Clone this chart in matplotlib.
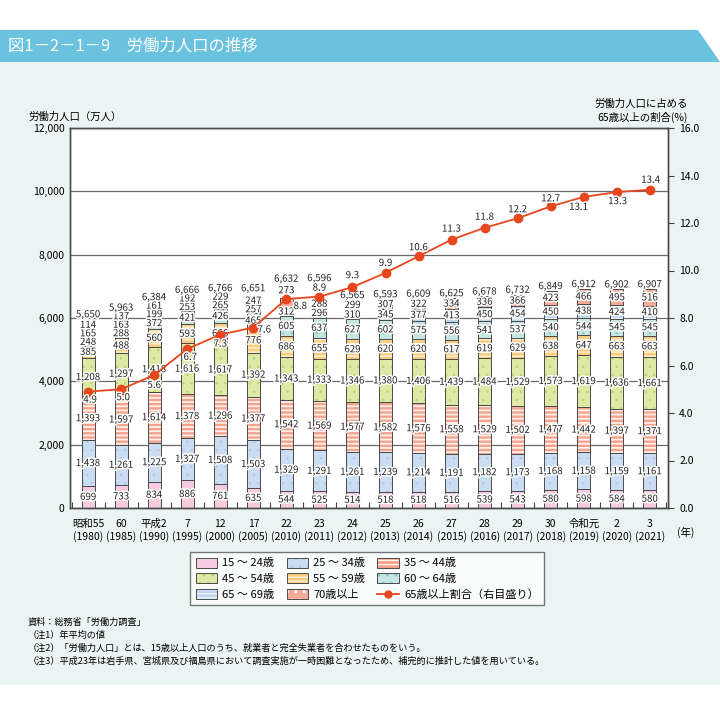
import matplotlib
matplotlib.use("Agg")
import matplotlib.pyplot as plt
import matplotlib.patheffects as pe
from matplotlib.patches import Patch, Polygon, Rectangle
from matplotlib.lines import Line2D
import numpy as np

plt.rcParams['font.family'] = ['Noto Sans CJK JP', 'DejaVu Sans']

# data (万人)
years = ["昭和55\n(1980)", "60\n(1985)", "平成2\n(1990)", "7\n(1995)", "12\n(2000)",
         "17\n(2005)", "22\n(2010)", "23\n(2011)", "24\n(2012)", "25\n(2013)",
         "26\n(2014)", "27\n(2015)", "28\n(2016)", "29\n(2017)", "30\n(2018)",
         "令和元\n(2019)", "2\n(2020)", "3\n(2021)"]
age_groups = ["15 ～ 24歳", "25 ～ 34歳", "35 ～ 44歳", "45 ～ 54歳",
              "55 ～ 59歳", "60 ～ 64歳", "65 ～ 69歳", "70歳以上"]
age15_24 = [699, 733, 834, 886, 761, 635, 544, 525, 514, 518, 518, 516, 539, 543, 580, 598, 584, 580]
age25_34 = [1438, 1261, 1225, 1327, 1508, 1503, 1329, 1291, 1261, 1239, 1214, 1191, 1182, 1173, 1168, 1158, 1159, 1161]
age35_44 = [1393, 1597, 1614, 1378, 1296, 1377, 1542, 1569, 1577, 1582, 1576, 1558, 1529, 1502, 1477, 1442, 1397, 1371]
age45_54 = [1208, 1297, 1418, 1616, 1617, 1392, 1343, 1333, 1346, 1380, 1406, 1439, 1484, 1529, 1573, 1619, 1636, 1661]
age55_59 = [385, 488, 560, 593, 666, 776, 686, 655, 629, 620, 620, 617, 619, 629, 638, 647, 663, 663]
age60_64 = [248, 288, 372, 421, 426, 465, 605, 637, 627, 602, 575, 556, 541, 537, 540, 544, 545, 545]
age65_69 = [165, 163, 199, 253, 265, 257, 312, 296, 310, 345, 377, 413, 450, 454, 450, 438, 424, 410]
age70_up = [114, 137, 161, 192, 229, 247, 273, 288, 299, 307, 322, 334, 336, 366, 423, 466, 495, 516]
totals = [5650, 5963, 6384, 6666, 6766, 6651, 6632, 6596, 6565, 6593, 6609, 6625, 6678, 6732, 6849, 6912, 6902, 6907]
ratio65 = [4.9, 5.0, 5.6, 6.7, 7.3, 7.6, 8.8, 8.9, 9.3, 9.9, 10.6, 11.3, 11.8, 12.2, 12.7, 13.1, 13.3, 13.4]

series = [age15_24, age25_34, age35_44, age45_54, age55_59, age60_64, age65_69, age70_up]

# styles: face colour, hatch, hatch colour, hatch line width
faces = ['#F7CBE0', '#CADDF2', '#F4A38D', '#DEE9A6', '#FACB7E', '#C6E6E3', '#BDD4EE', '#F3AB97']
hatches = ['', '..', '----', '..', '----', '..', '----', '..']
hcolors = ['#F7CBE0', '#B0C9E7', '#FFF1EC', '#B7D172', '#FFF0D2', '#8ACAC4', '#F2F7FC', '#FFFFFF']
hwidths = [0.5, 0.5, 1.3, 0.5, 1.1, 0.5, 1.2, 0.5]
edge = '#4A4A4A'
red = '#E8471E'
# label offsets for the ratio line (pixels)
pct_off = [(2, -8), (2, -8), (0, -10), (3, -8), (0, -9), (11, -2), (14, -7), (0, 9), (0, 12),
           (0, 10), (0, 9), (0, 11), (0, 11), (0, 9), (0, 8), (-5, -10), (1, -9), (1, 10)]
# extra lift (pixels) of the top segment label / total label where the line crosses
top_lift = [0, 0, 0, 0, 0, 0, 12, 0, 0, 0, 0, 0, 0, 0, 0, 0, 0, 0]
total_lift = [2, 0, 0, 0, 0, 4, 3, 16, 0, 0, 0, 0, 0, 0, 0, 0, 0, 0]


def make_patch(p, k):
    if hasattr(p, 'set_hatch_linewidth'):
        p.set_hatch_linewidth(hwidths[k])


fig = plt.figure(figsize=(7.2, 7.2), dpi=100)
fig.patch.set_facecolor('white')

# panel + title band
fig.patches.append(Rectangle((0, 1 - 685 / 720), 1, (685 - 62) / 720, transform=fig.transFigure,
                             facecolor='#EAF4F3', edgecolor='none', zorder=-10))
fig.patches.append(Polygon([(0, 1 - 30 / 720), (698 / 720, 1 - 30 / 720), (1, 1 - 62 / 720), (0, 1 - 62 / 720)],
                           closed=True, transform=fig.transFigure, facecolor='#6AC2DE',
                           edgecolor='none', zorder=-10))
fig.text(8 / 720, 1 - 46 / 720, "図1－2－1－9　労働力人口の推移", color='white', fontsize=11.8,
         va='center', ha='left')

ax = fig.add_axes([70 / 720, 1 - 508 / 720, 598 / 720, 380 / 720])
ax.set_facecolor('white')
x = np.arange(len(years))
w = 0.4
bottom = np.zeros(len(years))
px = 12000 / 380.0
label_y = [[] for _ in years]
for k, vals in enumerate(series):
    vals = np.array(vals, dtype=float)
    with plt.rc_context({'hatch.linewidth': hwidths[k]}):
        bars = ax.bar(x, vals, w, bottom=bottom, color=faces[k], hatch=hatches[k],
                      edgecolor=hcolors[k], linewidth=0, zorder=2)
        for p in bars:
            make_patch(p, k)
    ax.bar(x, vals, w, bottom=bottom, fill=False, edgecolor=edge, linewidth=0.7, zorder=3)
    for i in x:
        yc = bottom[i] + vals[i] / 2
        if label_y[i]:
            yc = max(yc, label_y[i][-1] + 8.5 * px)
        if k == len(series) - 1:
            yc += top_lift[i] * px
        label_y[i].append(yc)
    bottom += vals

halo = [pe.withStroke(linewidth=2.2, foreground='white')]
for i in x:
    for k, yc in enumerate(label_y[i]):
        ax.text(i, yc, f"{series[k][i]:,}", ha='center', va='center', fontsize=7,
                color='#222222', path_effects=halo, zorder=6)
    yt = max(totals[i] + 5 * px, label_y[i][-1] + 8.5 * px) + total_lift[i] * px
    ax.text(i, yt, f"{totals[i]:,}", ha='center', va='center', fontsize=7,
            color='#222222', path_effects=halo, zorder=6)

ax.set_xlim(-0.55, len(years) - 0.45)
ax.set_ylim(0, 12000)
ax.set_yticks(range(0, 12001, 2000))
ax.set_yticklabels([f"{v:,}" for v in range(0, 12001, 2000)], fontsize=7.5)
ax.tick_params(axis='y', length=0, pad=4)
ax.yaxis.grid(True, color='#6A6A6A', linewidth=0.9, zorder=1)
ax.set_axisbelow(True)
ax.set_xticks(x)
ax.set_xticklabels(years, fontsize=7.5, linespacing=1.25)
ax.tick_params(axis='x', length=0, pad=8)
ax.set_xticks(np.arange(-0.5, len(years), 0.5), minor=True)
ax.tick_params(axis='x', which='minor', direction='in', length=4, color='#444444', width=0.8)
for s in ax.spines.values():
    s.set_color('#4A4A4A')
    s.set_linewidth(1.0)

ax2 = ax.twinx()
ax2.set_ylim(0, 16)
ax2.set_yticks(np.arange(0, 16.1, 2))
ax2.set_yticklabels([f"{v:.1f}" for v in np.arange(0, 16.1, 2)], fontsize=7.5)
ax2.tick_params(axis='y', direction='out', length=4, color='#444444', pad=4)
for s in ax2.spines.values():
    s.set_color('#4A4A4A')
    s.set_linewidth(1.0)
ax2.plot(x, ratio65, color=red, linewidth=1.3, marker='o', markersize=6, zorder=5)
for i in x:
    ax2.annotate(f"{ratio65[i]:.1f}", (i, ratio65[i]), xytext=pct_off[i], textcoords='offset pixels',
                 ha='center', va='center', fontsize=7, color='#222222', path_effects=halo, zorder=6)

fig.text(28 / 720, 1 - 117 / 720, "労働力人口（万人）", fontsize=7.5, ha='left', va='center')
fig.text(688 / 720, 1 - 104 / 720, "労働力人口に占める", fontsize=7.5, ha='right', va='center')
fig.text(688 / 720, 1 - 117 / 720, "65歳以上の割合(%)", fontsize=7.5, ha='right', va='center')
fig.text(677 / 720, 1 - 532 / 720, "(年)", fontsize=7.5, ha='left', va='center')

# legend
handles = []
for k in range(8):
    with plt.rc_context({'hatch.linewidth': hwidths[k]}):
        hp = Patch(facecolor=faces[k], hatch=hatches[k], edgecolor=hcolors[k], linewidth=0)
    make_patch(hp, k)
    handles.append((hp, Patch(fill=False, edgecolor=edge, linewidth=0.7)))
line_h = Line2D([], [], color=red, linewidth=1.3, marker='o', markersize=5)
order = [0, 3, 6, 1, 4, 7, 2, 5]
hs = [handles[k] for k in order] + [line_h]
ls = [age_groups[k] for k in order] + ["65歳以上割合（右目盛り）"]
leg = fig.legend(hs, ls, ncol=3, loc='upper left', bbox_to_anchor=(190 / 720, 1 - 552 / 720),
                 fontsize=8, frameon=True, fancybox=False, edgecolor='#555555',
                 handlelength=1.9, handleheight=1.0, columnspacing=1.1, labelspacing=0.45,
                 borderpad=0.5, handletextpad=0.5, borderaxespad=0)
leg.get_frame().set_linewidth(1.0)

notes = ["資料：総務省「労働力調査」",
         "（注1）年平均の値",
         "（注2）「労働力人口」とは、15歳以上人口のうち、就業者と完全失業者を合わせたものをいう。",
         "（注3）平成23年は岩手県、宮城県及び福島県において調査実施が一時困難となったため、補完的に推計した値を用いている。"]
for j, t in enumerate(notes):
    fig.text(28 / 720, 1 - (622 + 13 * j) / 720, t, fontsize=6.6, ha='left', va='center')

fig.savefig("out.png", dpi=100)
